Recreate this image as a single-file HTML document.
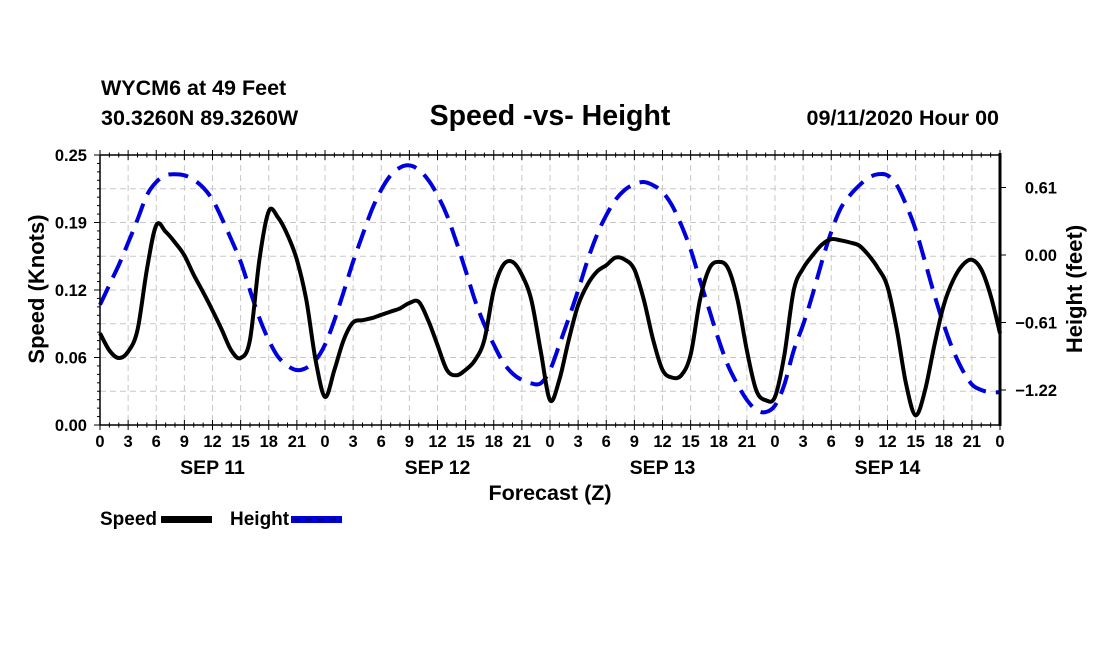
<!DOCTYPE html>
<html><head><meta charset="utf-8"><style>
html,body{margin:0;padding:0;background:#fff;}
svg{display:block;font-family:"Liberation Sans",sans-serif;font-weight:bold;}
</style></head><body>
<svg id="chart" width="1100" height="650" viewBox="0 0 1100 650">
<text x="101" y="95" font-size="21.5">WYCM6 at 49 Feet</text>
<text x="101" y="125" font-size="21.5">30.3260N 89.3260W</text>
<text x="550" y="125" font-size="28.5" text-anchor="middle">Speed -vs- Height</text>
<text x="999" y="125" font-size="21.5" text-anchor="end">09/11/2020 Hour 00</text>
<g id="grid"></g>
<g id="series"></g>
<g id="axes"></g>
<text x="0" y="0" font-size="22" text-anchor="middle" transform="translate(44,289) rotate(-90)">Speed (Knots)</text>
<text x="0" y="0" font-size="22" text-anchor="middle" transform="translate(1082,289) rotate(-90)">Height (feet)</text>
<text x="550" y="500" font-size="21.5" text-anchor="middle">Forecast (Z)</text>
<g>
<text x="100" y="525" font-size="19">Speed</text>
<rect x="161" y="516" width="51" height="7" fill="#000"/>
<text x="230" y="525" font-size="19">Height</text>
<rect x="291" y="516" width="51" height="7" fill="#0000dd"/>
<line x1="293" y1="519.5" x2="342" y2="519.5" stroke="#000" stroke-width="1.5" stroke-dasharray="7,5"/>
</g>
</svg>
<script>
const hours = [];
for (let i = 0; i <= 96; i++) hours.push(i);
const speedValues = [
0.085,0.069,0.062,0.068,0.088,0.144,0.185,0.179,0.169,0.157,0.139,0.123,0.106,0.088,0.069,0.062,0.079,0.153,0.198,0.192,0.176,0.153,0.116,0.060,0.026,
0.051,0.079,0.095,0.097,0.099,0.102,0.105,0.108,0.113,0.114,0.097,0.074,0.051,0.046,0.051,0.060,0.079,0.125,0.148,0.151,0.139,0.116,0.069,0.023,
0.042,0.079,0.111,0.130,0.142,0.148,0.155,0.153,0.144,0.116,0.079,0.051,0.044,0.046,0.065,0.116,0.145,0.151,0.145,0.116,0.069,0.032,0.023,0.026,
0.065,0.125,0.145,0.157,0.167,0.172,0.171,0.169,0.166,0.157,0.145,0.128,0.088,0.037,0.009,0.032,0.074,0.111,0.134,0.148,0.153,0.144,0.120,0.085];
const heightValues = [
-0.45,-0.27,-0.09,0.11,0.32,0.54,0.66,0.72,0.73,0.72,0.68,0.61,0.50,0.33,0.14,-0.06,-0.32,-0.57,-0.77,-0.92,-1.00,-1.04,-1.02,-0.95,-0.81,
-0.59,-0.33,-0.06,0.18,0.41,0.59,0.72,0.79,0.81,0.77,0.68,0.54,0.36,0.12,-0.14,-0.41,-0.63,-0.81,-0.97,-1.07,-1.13,-1.16,-1.16,-1.04,
-0.81,-0.57,-0.32,-0.05,0.18,0.36,0.50,0.59,0.64,0.66,0.63,0.57,0.45,0.27,0.05,-0.23,-0.50,-0.77,-1.00,-1.17,-1.31,-1.40,-1.42,-1.36,
-1.17,-0.86,-0.63,-0.36,-0.06,0.21,0.42,0.54,0.63,0.70,0.73,0.72,0.63,0.45,0.23,-0.06,-0.36,-0.63,-0.86,-1.04,-1.17,-1.22,-1.24,-1.24];
const speedTicks = [0, 0.0625, 0.125, 0.1875, 0.25];
const speedTickLabels = ["0.00","0.06","0.12","0.19","0.25"];
const heightTicks = [0.61, 0, -0.61, -1.22];
const heightTickLabels = ["0.61","0.00","\u22120.61","\u22121.22"];
const hourLabels = ["0","3","6","9","12","15","18","21"];
const dayLabels = ["SEP 11","SEP 12","SEP 13","SEP 14"];

const NS = "http://www.w3.org/2000/svg";
const L = 100, R = 1000, T = 155, B = 425;
const xS = h => L + (h / 96) * (R - L);
const yS = v => B - (v / 0.25) * (B - T);
const yH = v => 255 - v * (67.5 / 0.61);
function mk(tag, attrs, parent) {
  const e = document.createElementNS(NS, tag);
  for (const k in attrs) e.setAttribute(k, attrs[k]);
  parent.appendChild(e);
  return e;
}
const grid = document.getElementById('grid');
const axes = document.getElementById('axes');
const series = document.getElementById('series');
for (let h = 3; h < 96; h += 3) {
  const l = mk('line', {x1: xS(h), y1: T, x2: xS(h), y2: B, stroke: '#c8c8c8', 'stroke-width': 1, 'stroke-dasharray': '6,4'}, grid);
  
  
}
for (let i = 1; i < 8; i++) {
  const y = yS(i * 0.03125);
  const l = mk('line', {x1: L, y1: y, x2: R, y2: y, stroke: '#c8c8c8', 'stroke-width': 1, 'stroke-dasharray': '6,4'}, grid);
  
  
}
const frame = mk('path', {d: `M${L},${T} L${R},${T} M${L},${T} L${L},${B} L${R},${B}`, stroke: '#000', 'stroke-width': 1.5, fill: 'none'}, axes);


const rax = mk('line', {x1: R, y1: T - 2, x2: R, y2: B + 1, stroke: '#000', 'stroke-width': 3}, axes);


for (let h = 0; h <= 96; h++) {
  const major = h % 3 === 0;
  const len = major ? 5 : 2.5;
  const x = xS(h);
  const t1 = mk('line', {x1: x, y1: B - len, x2: x, y2: B + len, stroke: '#000', 'stroke-width': 1}, axes);
  
  
  const t2 = mk('line', {x1: x, y1: T - len, x2: x, y2: T + len, stroke: '#000', 'stroke-width': 1}, axes);
  
  
  if (major) {
    const lbl = mk('text', {x: x, y: 447, 'font-size': 16.5, 'text-anchor': 'middle'}, axes);
    lbl.textContent = hourLabels[(h / 3) % 8];
    
    
  }
}
dayLabels.forEach((d, i) => {
  const t = mk('text', {x: xS(i * 24 + 12), y: 474, 'font-size': 19.5, 'text-anchor': 'middle'}, axes);
  t.textContent = d;
  
  
});
for (let i = 0; i <= 32; i++) {
  const y = yS(i * 0.25 / 32);
  const len = i % 8 === 0 ? 6 : 3;
  const t = mk('line', {x1: L - len, y1: y, x2: L, y2: y, stroke: '#000', 'stroke-width': 1}, axes);
  
  
}
speedTicks.forEach((v, i) => {
  const t = mk('text', {x: 87, y: yS(v) + 6, 'font-size': 16.5, 'text-anchor': 'end'}, axes);
  t.textContent = speedTickLabels[i];
  
  
});
heightTicks.forEach((v, i) => {
  const y = yH(v);
  const tk = mk('line', {x1: R, y1: y, x2: R + 6, y2: y, stroke: '#000', 'stroke-width': 1}, axes);
  
  
  const t = mk('text', {x: 1057, y: y + 6, 'font-size': 16.5, 'text-anchor': 'end'}, axes);
  t.textContent = heightTickLabels[i];
  
  
});
function smooth(pts) {
  let d = `M${pts[0][0]},${pts[0][1]}`;
  for (let i = 0; i < pts.length - 1; i++) {
    const p0 = pts[i - 1] || pts[i], p1 = pts[i], p2 = pts[i + 1], p3 = pts[i + 2] || p2;
    const c1 = [p1[0] + (p2[0] - p0[0]) / 6, p1[1] + (p2[1] - p0[1]) / 6];
    const c2 = [p2[0] - (p3[0] - p1[0]) / 6, p2[1] - (p3[1] - p1[1]) / 6];
    d += ` C${c1[0].toFixed(1)},${c1[1].toFixed(1)} ${c2[0].toFixed(1)},${c2[1].toFixed(1)} ${p2[0].toFixed(1)},${p2[1].toFixed(1)}`;
  }
  return d;
}
const hp = mk('path', {d: smooth(hours.map((h, i) => [xS(h), yH(heightValues[i])])), stroke: '#0000dd', 'stroke-width': 4, fill: 'none', 'stroke-dasharray': '20,10'}, series);


const sp = mk('path', {d: smooth(hours.map((h, i) => [xS(h), yS(speedValues[i])])), stroke: '#000', 'stroke-width': 4, fill: 'none', 'stroke-linejoin': 'round'}, series);


</script>
</body></html>
